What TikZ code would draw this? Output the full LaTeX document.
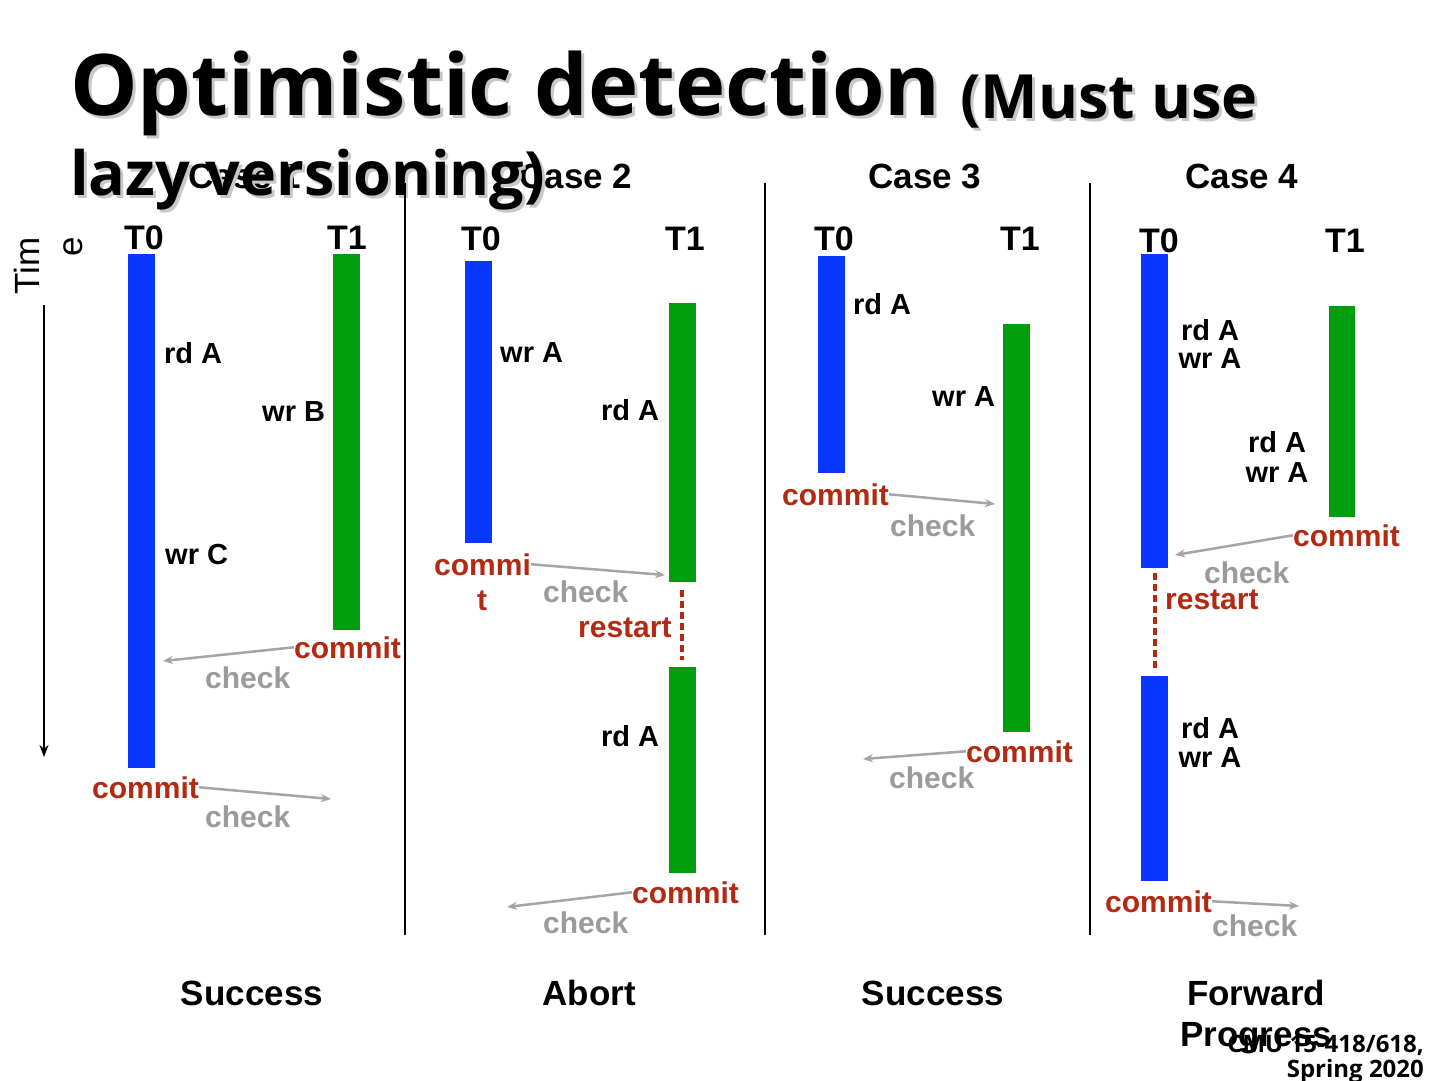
\documentclass[tikz,border=0pt]{standalone}
\usepackage{fontspec}
\setmainfont{Liberation Sans}
\newfontfamily\titlefont{Open Sans}
\usetikzlibrary{arrows.meta}
\definecolor{barblue}{RGB}{8,56,255}
\definecolor{bargreen}{RGB}{0,158,12}
\definecolor{cred}{RGB}{178,42,18}
\definecolor{cgray}{RGB}{155,155,155}
\definecolor{agray}{RGB}{165,165,165}
\definecolor{shadow}{RGB}{200,200,200}
\begin{document}
\begin{tikzpicture}[x=1pt,y=-1pt,
  txt/.style={inner sep=0pt, anchor=base west, font=\fontsize{29}{33}\selectfont\bfseries},
  ctxt/.style={txt, anchor=base},
  cmt/.style={txt, text=cred, font=\fontsize{30}{34}\selectfont\bfseries},
  chk/.style={txt, text=cgray, font=\fontsize{30}{34}\selectfont\bfseries},
  tlab/.style={inner sep=0pt, anchor=base, font=\fontsize{34}{40}\selectfont\bfseries},
  caselab/.style={inner sep=0pt, anchor=base, font=\fontsize{35}{40}\selectfont\bfseries},
  reslab/.style={inner sep=0pt, anchor=base west, font=\fontsize{35}{40}\selectfont\bfseries},
  chkarrow/.style={draw=agray, line width=2.5pt, -{Stealth[length=10pt,width=8pt]}},
  dotline/.style={draw=cred, line width=3.5pt, dash pattern=on 7pt off 4pt},
  sepline/.style={draw=black, line width=2.5pt},
  bigt/.style={inner sep=0pt, anchor=base west, font=\titlefont\fontsize{85}{90}\selectfont\bfseries},
  midt/.style={inner sep=0pt, anchor=base west, font=\titlefont\fontsize{61}{66}\selectfont\bfseries},
  foot/.style={inner sep=0pt, anchor=base east, font=\titlefont\fontsize{24}{28}\selectfont\bfseries}
]
\useasboundingbox[fill=white] (0,0) rectangle (1440,1080);

% Case labels (drawn beneath the title)
\node[caselab] (case1) at (245,188) {Case 1};
\node[caselab] (case2) at (576,188) {Case 2};
\node[caselab] (case3) at (925,188) {Case 3};
\node[caselab] (case4) at (1242,188) {Case 4};

% Title with shadow
\node[bigt, text=shadow] (t1s) at (73,118) {Optimistic detection};
\node[midt, text=shadow] (t2s) at (963,121) {(Must use};
\node[midt, text=shadow] (t3s) at (73,198) {lazy versioning)};
\node[bigt] (t1) at (70,115) {Optimistic detection};
\node[midt] (t2) at (960,118) {(Must use};
\node[midt] (t3) at (70,195) {lazy versioning)};

% Time axis
\node[rotate=90, anchor=base east, inner sep=0pt, font=\fontsize{35}{40}\selectfont] (tim) at (39,237) {Tim};
\node[rotate=90, anchor=base east, inner sep=0pt, font=\fontsize{35}{40}\selectfont] (tim2) at (82,237) {e};
\coordinate (ta) at (44,305);
\coordinate (tb) at (44,757);
\draw[line width=2.5pt, -{Stealth[length=12pt,width=9pt]}] (ta) -- (tb);

% Separators
\coordinate (s1a) at (405,183); \coordinate (s1b) at (405,935);
\coordinate (s2a) at (765,183); \coordinate (s2b) at (765,935);
\coordinate (s3a) at (1090,183); \coordinate (s3b) at (1090,935);
\draw[sepline] (s1a) -- (s1b);
\draw[sepline] (s2a) -- (s2b);
\draw[sepline] (s3a) -- (s3b);

% ---------------- Case 1
\node[tlab] (c1t0) at (144,249) {T0};
\node[tlab] (c1t1) at (347,249) {T1};
\fill[barblue] (128,254) rectangle (155,768);
\fill[bargreen] (333,254) rectangle (360,630);
\node[txt] (c1r) at (164,363) {rd A};
\node[txt] (c1w) at (262,421) {wr B};
\node[txt] (c1c) at (165,564) {wr C};
\node[cmt] (c1cm1) at (294,658) {commit};
\node[chk] (c1ck1) at (205,688) {check};
\coordinate (c1e1) at (163,661);
\draw[chkarrow] (c1cm1.west) -- (c1e1);
\node[cmt] (c1cm2) at (92,798) {commit};
\node[chk] (c1ck2) at (205,827) {check};
\coordinate (c1e2) at (331,799);
\draw[chkarrow] (c1cm2.east) -- (c1e2);
\node[reslab, anchor=base] (c1res) at (252,1005) {Success};

% ---------------- Case 2
\node[tlab] (c2t0) at (481,250) {T0};
\node[tlab] (c2t1) at (685,250) {T1};
\fill[barblue] (465,261) rectangle (492,543);
\fill[bargreen] (669,303) rectangle (696,582);
\fill[bargreen] (669,667) rectangle (696,873);
\coordinate (c2da) at (682,590); \coordinate (c2db) at (682,660);
\draw[dotline] (c2da) -- (c2db);
\node[txt] (c2w) at (500,362) {wr A};
\node[txt] (c2r) at (601,420) {rd A};
\node[cmt] (c2cm1) at (434,575) {commi};
\node[cmt, anchor=base] (c2cm1b) at (482,610) {t};
\node[chk] (c2ck1) at (543,602) {check};
\coordinate (c2e1) at (665,575);
\draw[chkarrow] (c2cm1.east) -- (c2e1);
\node[cmt] (c2rs) at (578,637) {restart};
\node[txt] (c2r2) at (601,746) {rd A};
\node[cmt] (c2cm2) at (632,903) {commit};
\node[chk] (c2ck2) at (543,933) {check};
\coordinate (c2e2) at (507,907);
\draw[chkarrow] (c2cm2.west) -- (c2e2);
\node[reslab, anchor=base] (c2res) at (589,1005) {Abort};

% ---------------- Case 3
\node[tlab] (c3t0) at (834,250) {T0};
\node[tlab] (c3t1) at (1020,250) {T1};
\fill[barblue] (818,256) rectangle (845,473);
\fill[bargreen] (1003,324) rectangle (1030,732);
\node[txt] (c3r) at (853,314) {rd A};
\node[txt] (c3w) at (932,406) {wr A};
\node[cmt] (c3cm1) at (782,505) {commit};
\node[chk] (c3ck1) at (890,536) {check};
\coordinate (c3e1) at (995,504);
\draw[chkarrow] (c3cm1.east) -- (c3e1);
\node[cmt] (c3cm2) at (966,762) {commit};
\node[chk] (c3ck2) at (889,788) {check};
\coordinate (c3e2) at (863,759);
\draw[chkarrow] (c3cm2.west) -- (c3e2);
\node[reslab, anchor=base] (c3res) at (933,1005) {Success};

% ---------------- Case 4
\node[tlab] (c4t0) at (1159,252) {T0};
\node[tlab] (c4t1) at (1345,252) {T1};
\fill[barblue] (1141,254) rectangle (1168,568);
\fill[barblue] (1141,676) rectangle (1168,881);
\fill[bargreen] (1329,306) rectangle (1355,517);
\coordinate (c4da) at (1155,573); \coordinate (c4db) at (1155,672);
\draw[dotline] (c4da) -- (c4db);
\node[ctxt] (c4a1) at (1210,340) {rd A};
\node[ctxt] (c4a2) at (1210,368) {wr A};
\node[ctxt] (c4b1) at (1277,452) {rd A};
\node[ctxt] (c4b2) at (1277,482) {wr A};
\node[cmt] (c4cm1) at (1293,546) {commit};
\node[chk] (c4ck1) at (1204,583) {check};
\coordinate (c4e1) at (1175,555);
\draw[chkarrow] (c4cm1.west) -- (c4e1);
\node[cmt] (c4rs) at (1165,609) {restart};
\node[ctxt] (c4c1) at (1210,738) {rd A};
\node[ctxt] (c4c2) at (1210,767) {wr A};
\node[cmt] (c4cm2) at (1105,912) {commit};
\node[chk] (c4ck2) at (1212,936) {check};
\coordinate (c4e2) at (1299,906);
\draw[chkarrow] (c4cm2.east) -- (c4e2);
\node[reslab] (c4res1) at (1187,1005) {Forward};
\node[reslab] (c4res2) at (1180,1046) {Progress};

% Footer
\node[foot] (f1) at (1424,1052) {CMU 15-418/618,};
\node[foot] (f2) at (1424,1077) {Spring 2020};
\end{tikzpicture}
\end{document}
